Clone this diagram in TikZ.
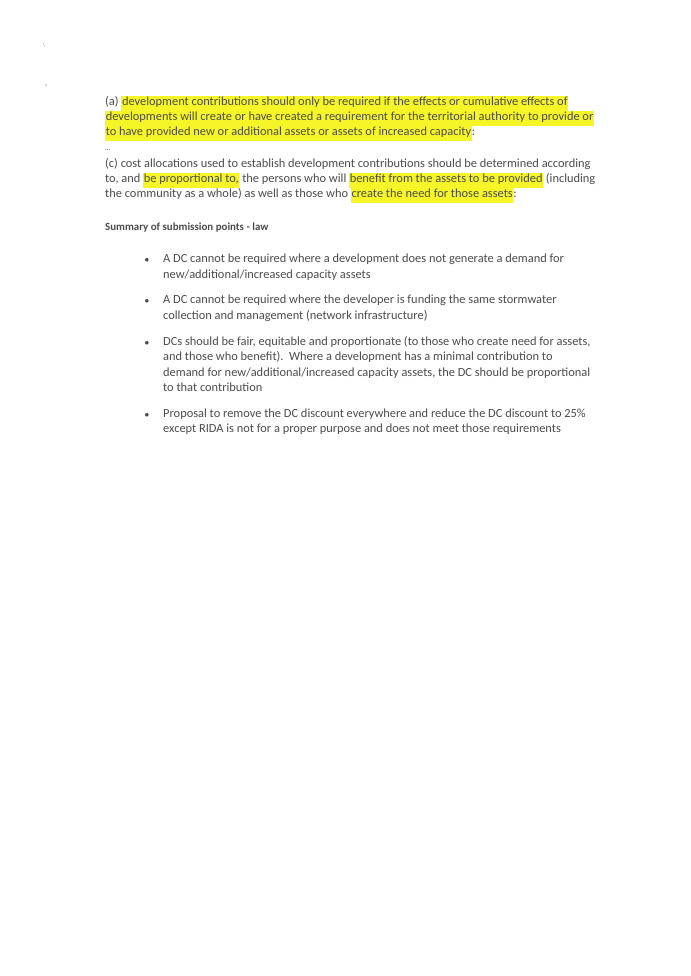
\documentclass[tikz,border=0pt]{standalone}
\usepackage{fontspec}
\setmainfont{Carlito}
\usepackage{xcolor}
\definecolor{inkgrey}{gray}{0.30}
\definecolor{marker}{RGB}{245,245,40}
\newcommand{\hl}[1]{{\setlength\fboxsep{0.6pt}\colorbox{marker}{\strut #1}}}
\begin{document}
\begin{tikzpicture}
[
x=1pt, y=-1pt,
line-a/.style={anchor=base west, inner sep=0pt, text=inkgrey, font=\fontsize{12.4}{14}\selectfont},
head-a/.style={line-a, font=\fontsize{10.9}{13}\selectfont\bfseries},
dot-a/.style={anchor=base, inner sep=0pt, text=inkgrey, font=\fontsize{9}{11}\selectfont}
]
\useasboundingbox[fill=white] (0,0) rectangle (690,976);
\draw[gray!60] (43,43) -- (45,47);
\fill[gray!60] (46,85) circle (0.8);
% law extract
\node (a-1) [line-a] at (105,106) {(a) \hl{development contributions should only be required if the effects or cumulative effects of}};
\node (a-2) [line-a] at (105,121) {\hl{developments will create or have created a requirement for the territorial authority to provide or}};
\node (a-3) [line-a] at (105,136) {\hl{to have provided new or additional assets or assets of increased capacity}:};
\node (gap) [line-a] at (105,151) {\scriptsize ...};
\node (c-1) [line-a] at (105,168) {(c) cost allocations used to establish development contributions should be determined according};
\node (c-2) [line-a] at (105,183) {to, and \hl{be proportional to,} the persons who will \hl{benefit from the assets to be provided} (including};
\node (c-3) [line-a] at (105,198) {the community as a whole) as well as those who \hl{create the need for those assets}:};
% summary
\node (sum) [head-a] at (105,231) {Summary of submission points - law};
\node (b-1) [dot-a] at (147,262) {$\bullet$};
\node (b-1a) [line-a] at (163,262) {A DC cannot be required where a development does not generate a demand for};
\node (b-1b) [line-a] at (163,278) {new/additional/increased capacity assets};
\node (b-2) [dot-a] at (147,303) {$\bullet$};
\node (b-2a) [line-a] at (163,303) {A DC cannot be required where the developer is funding the same stormwater};
\node (b-2b) [line-a] at (163,319) {collection and management (network infrastructure)};
\node (b-3) [dot-a] at (147,345) {$\bullet$};
\node (b-3a) [line-a] at (163,345) {DCs should be fair, equitable and proportionate (to those who create need for assets,};
\node (b-3b) [line-a] at (163,360) {and those who benefit).\ \ Where a development has a minimal contribution to};
\node (b-3c) [line-a] at (163,376) {demand for new/additional/increased capacity assets, the DC should be proportional};
\node (b-3d) [line-a] at (163,391) {to that contribution};
\node (b-4) [dot-a] at (147,417) {$\bullet$};
\node (b-4a) [line-a] at (163,417) {Proposal to remove the DC discount everywhere and reduce the DC discount to 25\%};
\node (b-4b) [line-a] at (163,432) {except RIDA is not for a proper purpose and does not meet those requirements};
\end{tikzpicture}
\end{document}
